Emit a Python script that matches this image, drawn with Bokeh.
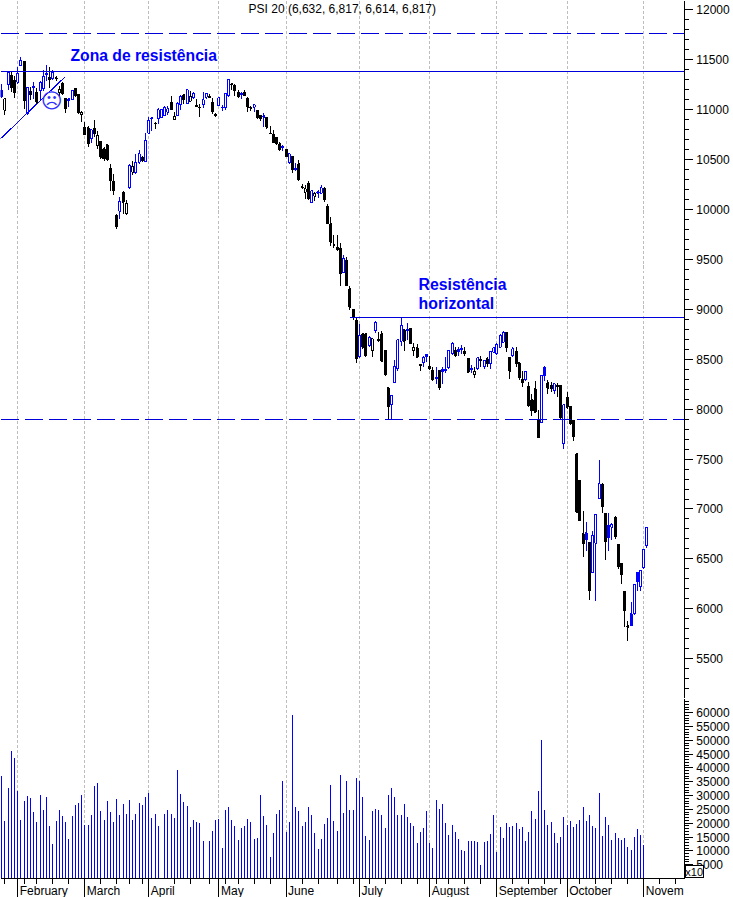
from bokeh.plotting import figure
from bokeh.layouts import column
from bokeh.models import (ColumnDataSource, FixedTicker, Range1d, Label, LabelSet, BasicTickFormatter)
from bokeh.core.properties import value
from bokeh.embed import file_html
from bokeh.resources import INLINE

TITLE = "PSI 20 (6,632, 6,817, 6,614, 6,817)"
months = ["February", "March", "April", "May", "June", "July", "August", "September", "October", "Novem"]
month_bar = [5, 26, 46, 68, 89, 112, 134, 155, 177, 201]
week_bar = [1, 7, 11, 16, 21, 31, 36, 40, 44, 54, 59, 65, 70, 74, 79, 84, 94, 99, 105, 110, 115, 120, 125, 130,
            136, 140, 145, 150, 160, 165, 170, 175, 181, 186, 191, 196, 206, 211]

open_ = [11189, 10989, 11249, 11339, 11289, 11272, 11439, 11483, 10955, 11182,
         11229, 11172, 11189, 11206, 11363, 11322, 11306, 11316, 11172, 11262,
         11106, 11106, 11096, 11212, 11149, 10945, 10822, 10815, 10705, 10805,
         10638, 10682, 10605, 10645, 10405, 10278, 9938, 9981, 10171, 9961,
         10215, 10371, 10365, 10472, 10515, 10482, 10762, 10915, 10862, 10905,
         10922, 10939, 10972, 11072, 10895, 10939, 11049, 11146, 11056, 11082,
         11116, 11039, 11022, 11049, 11122, 11132, 11072, 10949, 11039, 11022,
         11022, 11139, 11256, 11239, 11172, 11162, 11165, 11112, 11022, 11022,
         10988, 10938, 10935, 10922, 10762, 10748, 10715, 10655, 10628, 10598,
         10468, 10528, 10411, 10455, 10224, 10171, 10254, 10071, 10131, 10174,
         10161, 10211, 10027, 9854, 9647, 9620, 9604, 9370, 9487, 9203,
         8997, 8887, 8526, 8753, 8753, 8636, 8586, 8787, 8697, 8753,
         8586, 8213, 8046, 8269, 8403, 8680, 8793, 8800, 8803, 8586,
         8613, 8446, 8470, 8543, 8430, 8386, 8316, 8386, 8393, 8400,
         8413, 8553, 8586, 8593, 8610, 8580, 8510, 8410, 8346, 8403,
         8500, 8426, 8503, 8453, 8570, 8553, 8620, 8670, 8770, 8513,
         8536, 8580, 8463, 8293, 8293, 8226, 8092, 8202, 7892, 7862,
         8419, 8262, 8236, 8186, 8239, 8236, 7652, 8119, 8025, 7885,
         7552, 7285, 6751, 6761, 6661, 6367, 6657, 7101, 7245, 6951,
         6834, 6818, 6918, 6644, 6450, 6177, 5830, 5950, 5950, 6364,
         6223, 6410, 6632]
close = [11129, 11106, 11373, 11216, 11172, 11363, 11489, 11089, 11222, 11149,
         11216, 11072, 11272, 11329, 11349, 11296, 11373, 11306, 11196, 11156,
         11005, 11089, 11189, 11139, 10972, 10969, 10749, 10655, 10795, 10755,
         10739, 10522, 10505, 10495, 10288, 10188, 9828, 10078, 10071, 10061,
         10438, 10428, 10472, 10555, 10488, 10688, 10889, 10909, 10855, 10995,
         10995, 11022, 11005, 10995, 10929, 11056, 11129, 11096, 11196, 11129,
         11156, 11032, 11015, 11096, 11162, 11122, 10982, 10939, 11116, 11015,
         11156, 11296, 11246, 11189, 11129, 11149, 11139, 11022, 11012, 11045,
         10915, 10908, 10922, 10822, 10755, 10671, 10655, 10598, 10615, 10528,
         10555, 10398, 10398, 10294, 10218, 10204, 10104, 10184, 10161, 10161,
         10214, 10101, 9861, 9670, 9640, 9594, 9360, 9503, 9237, 9020,
         8913, 8503, 8737, 8620, 8536, 8720, 8703, 8870, 8687, 8480,
         8346, 8026, 8136, 8426, 8693, 8837, 8680, 8787, 8660, 8620,
         8520, 8436, 8520, 8530, 8406, 8293, 8303, 8213, 8380, 8386,
         8586, 8660, 8536, 8580, 8596, 8553, 8370, 8396, 8376, 8513,
         8486, 8486, 8453, 8576, 8613, 8646, 8737, 8770, 8613, 8380,
         8603, 8453, 8313, 8269, 8376, 8036, 7985, 7969, 7718, 8336,
         8336, 8209, 8202, 8252, 8226, 7912, 8042, 8019, 7852, 7725,
         6968, 6884, 6651, 6694, 6183, 6734, 6944, 7251, 7024, 6677,
         6717, 6844, 6724, 6424, 6344, 5983, 5816, 5833, 6243, 6277,
         6384, 6594, 6817]
high = [11256, 11106, 11373, 11373, 11339, 11423, 11523, 11489, 11229, 11229,
        11279, 11216, 11289, 11396, 11449, 11423, 11396, 11339, 11239, 11272,
        11106, 11116, 11189, 11216, 11156, 10979, 10872, 10829, 10805, 10895,
        10782, 10688, 10622, 10655, 10455, 10355, 9948, 10121, 10181, 10088,
        10455, 10488, 10555, 10595, 10538, 10762, 10922, 10922, 10872, 11015,
        11005, 11029, 11029, 11139, 10972, 11072, 11146, 11156, 11206, 11189,
        11172, 11106, 11056, 11172, 11169, 11156, 11116, 10962, 11122, 11039,
        11162, 11306, 11262, 11256, 11196, 11179, 11195, 11122, 11038, 11048,
        10988, 10948, 10962, 10922, 10838, 10795, 10715, 10671, 10648, 10605,
        10555, 10528, 10464, 10498, 10254, 10244, 10288, 10188, 10171, 10194,
        10248, 10221, 10054, 9921, 9747, 9747, 9660, 9544, 9520, 9237,
        9003, 8920, 8853, 8753, 8760, 8727, 8713, 8880, 8770, 8780,
        8586, 8213, 8136, 8493, 8703, 8913, 8793, 8860, 8813, 8660,
        8653, 8453, 8536, 8553, 8536, 8426, 8420, 8386, 8420, 8520,
        8593, 8670, 8626, 8620, 8646, 8620, 8513, 8446, 8420, 8520,
        8536, 8493, 8520, 8580, 8626, 8660, 8753, 8777, 8770, 8526,
        8620, 8626, 8470, 8386, 8380, 8269, 8152, 8279, 7992, 8336,
        8436, 8296, 8269, 8259, 8259, 8236, 8052, 8169, 8035, 7892,
        7552, 7285, 6984, 6874, 6667, 6784, 6951, 7495, 7265, 6951,
        6958, 6864, 6934, 6644, 6457, 6177, 5876, 6067, 6243, 6370,
        6384, 6594, 6817]
low = [11116, 10939, 11196, 11172, 11112, 11256, 11439, 11005, 10939, 11099,
       11106, 11056, 11089, 11189, 11289, 11216, 11296, 11289, 11139, 11149,
       10962, 11022, 11089, 11122, 10955, 10872, 10739, 10628, 10662, 10722,
       10605, 10505, 10488, 10488, 10188, 10148, 9804, 9904, 9954, 9938,
       10205, 10348, 10355, 10455, 10475, 10475, 10755, 10782, 10805, 10849,
       10915, 10929, 10939, 10989, 10889, 10929, 10989, 11056, 11049, 11072,
       11102, 11022, 10922, 11015, 11106, 11116, 10955, 10922, 11029, 10982,
       10995, 11122, 11196, 11139, 11116, 11105, 11132, 10972, 10982, 10972,
       10905, 10882, 10828, 10805, 10755, 10668, 10648, 10588, 10581, 10521,
       10455, 10361, 10388, 10288, 10204, 10104, 10094, 10071, 10087, 10114,
       10154, 10071, 9854, 9637, 9614, 9587, 9237, 9367, 9230, 8996,
       8893, 8460, 8513, 8603, 8520, 8620, 8526, 8763, 8670, 8470,
       8336, 7892, 7892, 8266, 8386, 8636, 8580, 8687, 8653, 8536,
       8513, 8386, 8420, 8470, 8393, 8286, 8253, 8193, 8253, 8360,
       8403, 8546, 8520, 8536, 8553, 8536, 8360, 8360, 8309, 8396,
       8420, 8403, 8420, 8406, 8560, 8546, 8613, 8660, 8570, 8303,
       8526, 8420, 8293, 8219, 8286, 8019, 7935, 7962, 7712, 7859,
       8279, 8152, 8169, 8152, 8119, 7902, 7602, 8002, 7845, 7685,
       6968, 6884, 6517, 6584, 6090, 6360, 6083, 7098, 6958, 6494,
       6584, 6694, 6701, 6400, 6250, 5823, 5676, 5833, 5943, 6183,
       6177, 6404, 6614]
blue_days = [0, 2, 5, 6, 8, 10, 12, 13, 14, 16, 21, 22, 28, 37, 40, 42, 43, 45, 46, 47, 49, 50, 51, 52, 55, 56, 58,
             60, 63, 64, 68, 69, 70, 71, 75, 79, 82, 88, 90, 92, 97, 99, 100, 107, 112, 115, 117, 122, 123, 124, 125,
             127, 132, 133, 136, 138, 139, 140, 141, 143, 144, 147, 149, 151, 153, 154, 155, 156, 157, 160, 164, 169,
             170, 173, 176, 183, 185, 186, 187, 190, 191, 197, 198, 199, 200, 201, 202]
volume = [37000, 20860, 32680, 46070, 43540, 31600, 21100, 27980, 29790, 29060,
          24000, 20380, 30150, 24720, 29430, 18930, 12420, 20740, 24720, 22550,
          20380, 14230, 22550, 26530, 27260, 30150, 19300, 19300, 22910, 33400,
          34490, 24360, 21100, 27980, 24000, 20380, 28700, 22910, 26890, 23280,
          28340, 21100, 23280, 27260, 26530, 29430, 30870, 21830, 23280, 18930,
          0, 23280, 24720, 23280, 21830, 39200, 30510, 27620, 26170, 18570,
          21100, 20380, 20020, 13510, 0, 13510, 17130, 21100, 21470, 10970,
          24720, 25810, 21100, 18930, 13870, 18210, 18930, 21470, 20380, 14230,
          14590, 30150, 22550, 19300, 7720, 16400, 23280, 24720, 35220, 16760,
          20380, 59090, 25810, 24360, 18930, 20380, 25810, 22910, 16400, 10610,
          14230, 19660, 21830, 33770, 20740, 17130, 37390, 23640, 35220, 24720,
          24720, 36300, 35220, 29430, 15320,
          13870, 24360, 25080, 24720, 22910, 18210, 30150, 32680, 29430, 22910,
          22910, 26890, 22190, 20020, 18930, 12780, 16760, 18210, 24360, 12780,
          10970, 28340, 25080, 26890, 20020, 15680, 19300, 16760, 14230, 10250,
          9890, 13510, 13510, 13510, 13150, 4820, 13150, 13510, 16040, 22910,
          9530, 18570, 14590, 20020, 18570, 18930, 20020, 17850, 18570, 13510,
          16760, 24360, 21470, 31600, 50050, 24720, 19300, 20380, 16400, 12780,
          14950, 22190, 19300, 20740, 18570, 19660, 21100, 25810, 20740, 22910,
          18930, 18210, 30870, 15320, 22190, 19300, 13870, 16400, 14590, 13870,
          14590, 11340, 10250, 14950, 17850, 15680, 12060, 0]
price_ticks = [12000, 11500, 11000, 10500, 10000, 9500, 9000, 8500, 8000, 7500, 7000, 6500, 6000, 5500]
price_minor = list(range(5200, 12100, 100))
volume_ticks = list(range(5000, 65000, 5000))
volume_minor = list(range(1000, 65000, 1000))

top_dash_level = 11760
resistance_zone = 11375
resistance_horizontal = 8914
support_dash_level = 7893
trend_bars = [-0.4, 19.9]
trend_prices = [10706, 11329]
resistance_start_bar = 108.9

assert all(len(s) == 203 for s in (open_, close, high, low, volume)), [len(s) for s in (open_, close, high, low, volume)]

BLUE = "#0000ff"
LINE = "#0000dd"
FONT = "Liberation Sans"
XMIN, AXIS_X, XEND = -0.407, 213.7, 229.09
VOL_TOP, VOL_BOTTOM = 65123, -6874
GRID = dict(grid_line_color="#bdbdbd", grid_line_dash="3 2", grid_line_width=1)

bars = list(range(len(close)))
tone = [BLUE if i in blue_days else "black" for i in bars]
fill = ["white" if c > o else t for o, c, t in zip(open_, close, tone)]
src = ColumnDataSource(dict(x=bars, o=open_, c=close, h=high, l=low, tone=tone, fill=fill,
                            top=[max(a, b) for a, b in zip(open_, close)],
                            bot=[min(a, b) for a, b in zip(open_, close)], v=volume))

common = dict(width=733, output_backend="svg", toolbar_location=None, y_axis_location="right",
              min_border_left=0, min_border_right=0, min_border_top=0, min_border_bottom=0,
              outline_line_color=None, background_fill_color="white")

p1 = figure(height=698, x_range=Range1d(XMIN, XEND), y_range=Range1d(5103, 12090),
            x_axis_location=None, **common)
p1.ygrid.visible = False
p1.xgrid.ticker = FixedTicker(ticks=month_bar)
for k, v in GRID.items():
    setattr(p1.xgrid[0], k, v)

ax = p1.yaxis[0]
ax.ticker = FixedTicker(ticks=price_ticks, minor_ticks=price_minor)
ax.formatter = BasicTickFormatter(use_scientific=False)
ax.fixed_location = AXIS_X

p1.segment("x", "h", "x", "l", source=src, line_color="tone", line_width=1)
p1.vbar("x", 0.63, "top", "bot", source=src, fill_color="fill", line_color="tone", line_width=1)

p1.line(trend_bars, trend_prices, line_color=BLUE, line_width=1)
p1.segment([XMIN], [resistance_zone], [AXIS_X], [resistance_zone], line_color=LINE, line_width=1)
p1.segment([resistance_start_bar], [resistance_horizontal], [AXIS_X], [resistance_horizontal], line_color=LINE, line_width=1)
p1.segment([XMIN], [top_dash_level], [AXIS_X], [top_dash_level], line_color=LINE, line_width=1, line_dash="18 6")
p1.segment([XMIN], [support_dash_level], [AXIS_X], [support_dash_level], line_color=LINE, line_width=1, line_dash="18 6")

p1.text([106.6], [12000], text=[TITLE], text_font=value(FONT), text_font_size="12px", text_color="black",
        text_align="center", text_baseline="middle")
p1.text([21.5], [11540], text=["Zona de resistência"], text_font=value(FONT), text_font_size="15.7px",
        text_font_style="bold", text_color=BLUE, text_align="left", text_baseline="middle")
p1.text([130.5, 130.5], [9250, 9060], text=["Resistência", "horizontal"], text_font=value(FONT), text_font_size="15.8px",
        text_font_style="bold", text_color=BLUE, text_align="left", text_baseline="middle")
p1.text([15.6], [11079], text=["☹"], text_font=value("DejaVu Sans"), text_font_size="21px",
        text_color="#3030ff", text_align="center", text_baseline="middle")

p2 = figure(height=199, x_range=p1.x_range, y_range=Range1d(VOL_BOTTOM, VOL_TOP), **common)
p2.ygrid.visible = False
p2.xgrid.ticker = FixedTicker(ticks=month_bar)
p2.xgrid.bounds = (0, VOL_TOP)
for k, v in GRID.items():
    setattr(p2.xgrid[0], k, v)
p2.segment("x", 0, "x", "v", source=src, line_color=BLUE, line_width=1)

ax2 = p2.yaxis[0]
ax2.ticker = FixedTicker(ticks=volume_ticks, minor_ticks=volume_minor)
ax2.formatter = BasicTickFormatter(use_scientific=False)
ax2.fixed_location = AXIS_X
ax2.bounds = (0, VOL_TOP)

for a in (ax, ax2):
    a.major_tick_in = 0
    a.major_tick_out = 8
    a.minor_tick_in = 0
    a.minor_tick_out = 4
    a.major_label_standoff = 4
    a.major_label_text_font = FONT
    a.major_label_text_font_size = "12px"
    a.major_label_text_color = "black"
    a.major_label_text_align = "right"
    a.major_tick_line_color = "black"
    a.minor_tick_line_color = "black"
    a.axis_line_color = "black"

bx = p2.xaxis[0]
bx.ticker = FixedTicker(ticks=month_bar, minor_ticks=week_bar)
bx.major_label_overrides = {b: "" for b in month_bar}
bx.fixed_location = 0
bx.bounds = (XMIN, AXIS_X)
bx.major_tick_in = 0
bx.major_tick_out = 19
bx.minor_tick_in = 0
bx.minor_tick_out = 5
bx.axis_line_color = "black"

month_src = ColumnDataSource(dict(x=month_bar, y=[0] * len(month_bar), t=months))
p2.add_layout(LabelSet(x="x", y="y", text="t", source=month_src, x_offset=2, y_offset=-12,
                       text_font=value(FONT), text_font_size="12px", text_color="black",
                       text_align="left", text_baseline="middle"))
p2.add_layout(Label(x=AXIS_X, y=0, x_offset=1, y_offset=1, text="x10", text_font=FONT, text_font_size="11px",
                    text_color="black", border_line_color="black", background_fill_color="white",
                    text_align="left", text_baseline="bottom"))

layout = column(p1, p2, spacing=0, styles={"shape-rendering": "crispEdges"})
open("out.html", "w").write(file_html(layout, INLINE))
